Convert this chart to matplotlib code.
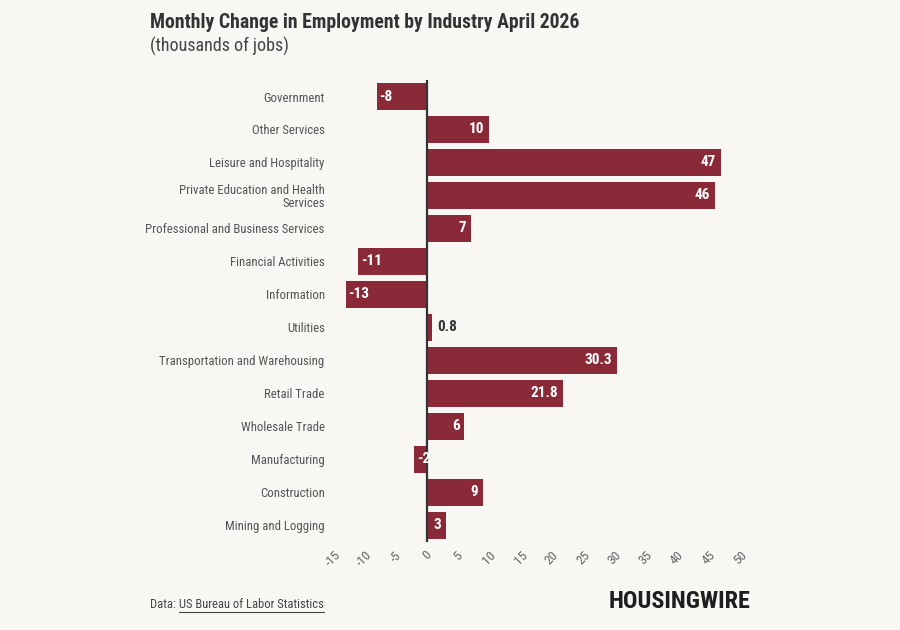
import matplotlib.pyplot as plt
from matplotlib import font_manager

# Data (thousands of jobs)
industries = [
    "Government",
    "Other Services",
    "Leisure and Hospitality",
    "Private Education and Health\nServices",
    "Professional and Business Services",
    "Financial Activities",
    "Information",
    "Utilities",
    "Transportation and Warehousing",
    "Retail Trade",
    "Wholesale Trade",
    "Manufacturing",
    "Construction",
    "Mining and Logging",
]
change = [-8, 10, 47, 46, 7, -11, -13, 0.8, 30.3, 21.8, 6, -2, 9, 3]
labels = ["-8", "10", "47", "46", "7", "-11", "-13", "0.8", "30.3", "21.8", "6", "-2", "9", "3"]
x_ticks = list(range(-15, 51, 5))

installed = {f.name for f in font_manager.fontManager.ttflist}
prefer = ["Roboto Condensed", "Liberation Sans Narrow", "Roboto", "DejaVu Sans"]
fams = [f for f in prefer if f in installed]
plt.rcParams['font.family'] = fams

bg = "#f8f7f4"
bar_color = "#8a2a38"

fig = plt.figure(figsize=(9, 6.3), dpi=100, facecolor=bg)
ax = fig.add_axes([0.37, 0.14, 0.452, 0.733])
ax.set_facecolor(bg)

ypos = list(range(len(industries)))
ax.barh(ypos, change, height=0.8, color=bar_color)
ax.set_ylim(len(industries) - 0.5, -0.5)
ax.set_xlim(-15, 50)

ax.set_yticks(ypos)
ax.set_yticklabels(industries, fontsize=9.2, color="#555555", linespacing=1.05)
ax.set_xticks(x_ticks)
ax.set_xticklabels([str(t) for t in x_ticks], rotation=45, fontsize=9.5,
                   color="#666666", ha="center", va="top")
ax.tick_params(axis="both", length=0)
ax.tick_params(axis="y", pad=6)
ax.tick_params(axis="x", pad=5)
for s in ax.spines.values():
    s.set_visible(False)

ax.axvline(0, color="#333333", linewidth=1.6)

# value labels
for y, v, lab in zip(ypos, change, labels):
    if abs(v) < 1:
        ax.annotate(lab, (v, y), xytext=(4, 0), textcoords="offset points",
                    ha="left", va="center", fontsize=11, fontweight="bold",
                    color="#333333")
    elif v > 0:
        ax.annotate(lab, (v, y), xytext=(-3.5, 0), textcoords="offset points",
                    ha="right", va="center", fontsize=11, fontweight="bold",
                    color="white")
    else:
        ax.annotate(lab, (v, y), xytext=(2, 0), textcoords="offset points",
                    ha="left", va="center", fontsize=11, fontweight="bold",
                    color="white")

fig.text(150 / 900, 1 - 23 / 630, "Monthly Change in Employment by Industry April 2026",
         fontsize=14.2, fontweight="bold", color="#333333", va="center", ha="left")
fig.text(150 / 900, 1 - 46 / 630, "(thousands of jobs)",
         fontsize=13, color="#444444", va="center", ha="left")

t1 = fig.text(150 / 900, 1 - 604 / 630, "Data: ", fontsize=9, color="#444444",
              va="center", ha="left")
fig.canvas.draw()
bb = t1.get_window_extent()
t2 = fig.text(bb.x1 / 900, 1 - 604 / 630, "US Bureau of Labor Statistics",
              fontsize=9, color="#444444", va="center", ha="left")
fig.canvas.draw()
bb2 = t2.get_window_extent()
fig.add_artist(plt.Line2D([bb2.x0 / 900, bb2.x1 / 900],
                          [(bb2.y0 - 1) / 630, (bb2.y0 - 1) / 630],
                          color="#444444", linewidth=0.8))

fig.text(750 / 900, 1 - 602 / 630, "HOUSINGWIRE", fontsize=17.5, fontweight="heavy",
         color="#1e1e1e", va="center", ha="right")

fig.savefig("out.png", dpi=100, facecolor=bg)
